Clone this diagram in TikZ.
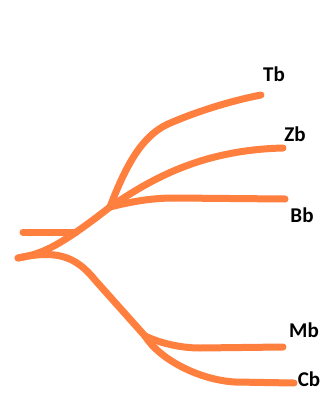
\documentclass[tikz,border=0pt]{standalone}
\usepackage{fontspec}
\setmainfont{Carlito}
\usepackage{xcolor}
\usepackage{tikz}
\usetikzlibrary{positioning}
\definecolor{brorange}{HTML}{FF7F3F}
\definecolor{brtext}{HTML}{000000}

\begin{document}
\begin{tikzpicture}[
   x=1pt,y=-1pt,
   branch/.style={draw=brorange,line width=7pt,line cap=round,line join=round},
   lbl/.style={font=\fontsize{21}{21}\selectfont\bfseries,color=brtext,inner sep=0pt}]
  \useasboundingbox (0,0) rectangle (333,397);
  \coordinate (root) at (18,258);
  \coordinate (bar) at (23,232);
  \coordinate (barend) at (76,232);
  \coordinate (hub) at (110,207);
  \coordinate (fork) at (145,336);
  \coordinate (tbend) at (261,95);
  \coordinate (zbend) at (283,148);
  \coordinate (bbend) at (285,199);
  \coordinate (mbend) at (283,347);
  \coordinate (cbend) at (294,383);
  \node[lbl] (Tb) at (274,74) {Tb};
  \node[lbl] (Zb) at (295,134) {Zb};
  \node[lbl] (Bb) at (302,215) {Bb};
  \node[lbl] (Mb) at (304,330) {Mb};
  \node[lbl] (Cb) at (309,379) {Cb};
  \draw[branch] (bar) -- (barend);
  \draw[branch] (root) .. controls (40,254) and (55,250) .. (hub);
  \draw[branch] (hub) .. controls (126,165) and (142,136) .. (168,124)
                      .. controls (200,110) and (235,100) .. (tbend);
  \draw[branch] (hub) .. controls (150,180) and (200,150) .. (zbend);
  \draw[branch] (hub) .. controls (130,202) and (150,198) .. (175,198) -- (bbend);
  \draw[branch] (root) .. controls (55,250) and (75,255) .. (95,280) -- (fork);
  \draw[branch] (fork) .. controls (160,343) and (180,348) .. (200,348) -- (mbend);
  \draw[branch] (fork) .. controls (160,360) and (200,380) .. (235,382) -- (cbend);
\end{tikzpicture}
\end{document}
